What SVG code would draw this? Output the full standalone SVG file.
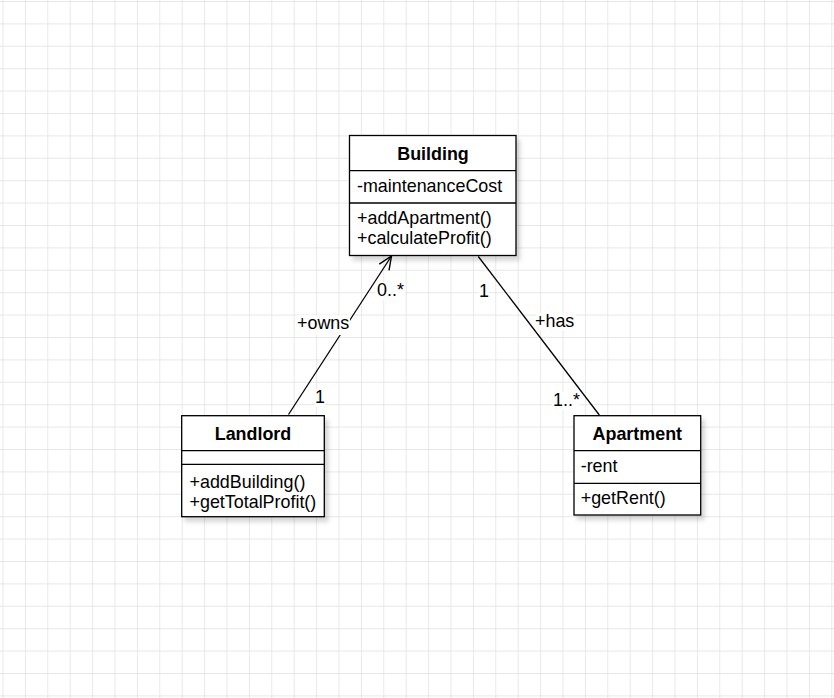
<svg xmlns="http://www.w3.org/2000/svg" width="834" height="698" viewBox="0 0 834 698">
  <defs>
    <pattern id="grid" x="2.5" y="1" width="22.4" height="22.4" patternUnits="userSpaceOnUse">
      <path d="M0,0 H22.4 M0,0 V22.4" fill="none" stroke="#e0e0e0" stroke-width="1.4"/>
    </pattern>
    <filter id="shadow" x="-10%" y="-10%" width="130%" height="130%">
      <feDropShadow dx="3.5" dy="4.5" stdDeviation="2" flood-color="#000" flood-opacity="0.16"/>
    </filter>
    <marker id="openArrow" markerUnits="userSpaceOnUse" markerWidth="20" markerHeight="20" refX="14" refY="7" orient="auto" overflow="visible">
      <path d="M0.5,1.2 L14,7 L0.5,12.8" fill="none" stroke="#000" stroke-width="1.4"/>
    </marker>
    <style>
      .box { fill: #fff; stroke: #000; stroke-width: 1.3; }
      .div { stroke: #000; stroke-width: 1.3; }
      .title { font-family: "Liberation Sans", Arial, sans-serif; font-size: 17.9px; font-weight: bold; text-anchor: middle; fill: #000; }
      .member { font-family: "Liberation Sans", Arial, sans-serif; font-size: 17.9px; fill: #000; }
      .edge { fill: none; stroke: #000; stroke-width: 1.3; }
      .lbl { font-family: "Liberation Sans", Arial, sans-serif; font-size: 17.9px; fill: #000; }
      .lblbg { fill: #fff; }
    </style>
  </defs>

  <rect x="0" y="0" width="834" height="698" fill="#fff"/>
  <rect x="0" y="0" width="834" height="698" fill="url(#grid)"/>

  <g id="connectors">
    <g id="edge-owns">
      <line class="edge" x1="288.5" y1="414.5" x2="391.5" y2="256" marker-end="url(#openArrow)"/>
      <rect class="lblbg" x="296" y="315" width="54" height="20"/>
      <text class="lbl" x="297" y="329">+owns</text>
      <rect class="lblbg" x="376" y="282" width="29" height="18"/>
      <text class="lbl" x="377" y="296">0..*</text>
      <rect class="lblbg" x="315" y="389" width="10" height="18"/>
      <text class="lbl" x="315" y="403">1</text>
    </g>
    <g id="edge-has">
      <line class="edge" x1="478.3" y1="256.5" x2="599.3" y2="415"/>
      <rect class="lblbg" x="479" y="283" width="10" height="18"/>
      <text class="lbl" x="479" y="297">1</text>
      <rect class="lblbg" x="536.5" y="313" width="39" height="17"/>
      <text class="lbl" x="535" y="327">+has</text>
      <rect class="lblbg" x="552" y="392" width="28" height="18"/>
      <text class="lbl" x="553" y="406">1..*</text>
    </g>
  </g>

  <g id="node-building">
    <rect class="box" x="349.5" y="135.5" width="166.5" height="120" filter="url(#shadow)"/>
    <line class="div" x1="349.5" y1="170.7" x2="516" y2="170.7"/>
    <line class="div" x1="349.5" y1="203" x2="516" y2="203"/>
    <text class="title" x="433" y="160">Building</text>
    <text class="member" x="357" y="192">-maintenanceCost</text>
    <text class="member" x="357" y="224">+addApartment()</text>
    <text class="member" x="357" y="244">+calculateProfit()</text>
  </g>

  <g id="node-landlord">
    <rect class="box" x="181.7" y="415.7" width="142.6" height="101" filter="url(#shadow)"/>
    <line class="div" x1="181.7" y1="450.7" x2="324.3" y2="450.7"/>
    <line class="div" x1="181.7" y1="464.3" x2="324.3" y2="464.3"/>
    <text class="title" x="253" y="440">Landlord</text>
    <text class="member" x="189.5" y="488">+addBuilding()</text>
    <text class="member" x="189.5" y="508">+getTotalProfit()</text>
  </g>

  <g id="node-apartment">
    <rect class="box" x="574" y="415.7" width="126.7" height="99.3" filter="url(#shadow)"/>
    <line class="div" x1="574" y1="450.7" x2="700.7" y2="450.7"/>
    <line class="div" x1="574" y1="483.3" x2="700.7" y2="483.3"/>
    <text class="title" x="637.3" y="440">Apartment</text>
    <text class="member" x="580.7" y="472">-rent</text>
    <text class="member" x="580.7" y="504">+getRent()</text>
  </g>
</svg>
